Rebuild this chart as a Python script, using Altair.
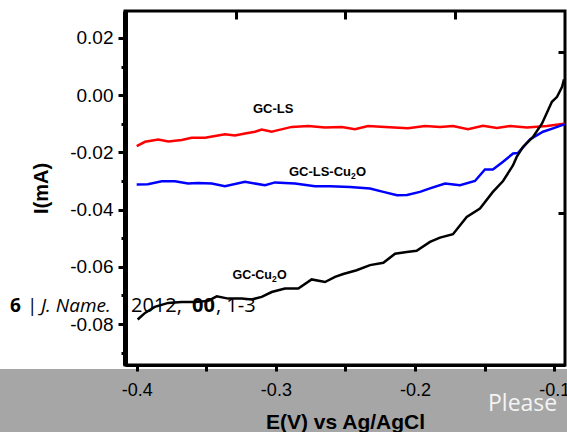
import altair as alt
import pandas as pd

# ---- data ----
red_x = [-0.400, -0.394, -0.3845, -0.3773, -0.3677, -0.3605, -0.3509, -0.3437, -0.3366, -0.3294,
         -0.3222, -0.315, -0.3102, -0.303, -0.3006, -0.2886, -0.2767, -0.2647, -0.2527, -0.2432,
         -0.2338, -0.2216, -0.2051, -0.1929, -0.1821, -0.1728, -0.162, -0.1512, -0.1412, -0.1318,
         -0.1196, -0.1052, -0.0944, -0.0925]
red_y = [-0.0178, -0.0163, -0.0155, -0.0162, -0.0157, -0.0149, -0.0149, -0.0143, -0.0137, -0.0141,
         -0.0134, -0.0128, -0.0120, -0.0128, -0.0125, -0.0111, -0.0108, -0.0113, -0.0111, -0.0119,
         -0.0108, -0.0111, -0.0116, -0.0108, -0.0111, -0.0108, -0.0119, -0.0107, -0.0115, -0.0108,
         -0.0113, -0.0108, -0.0101, -0.0100]

blue_x = [-0.400, -0.392, -0.382, -0.3725, -0.3631, -0.356, -0.3461, -0.3366, -0.3222, -0.3078,
          -0.3006, -0.2863, -0.2719, -0.2611, -0.2468, -0.2324, -0.2228, -0.213, -0.2058, -0.1965,
          -0.1893, -0.1785, -0.1677, -0.157, -0.1498, -0.1441, -0.1368, -0.1296, -0.126, -0.1175,
          -0.1081, -0.1009, -0.0944, -0.0925]
blue_y = [-0.0312, -0.0311, -0.0301, -0.0301, -0.0309, -0.0307, -0.0309, -0.0318, -0.0303, -0.0315,
          -0.0305, -0.0309, -0.0318, -0.0318, -0.0321, -0.0326, -0.0338, -0.0350, -0.0349, -0.0338,
          -0.0326, -0.0309, -0.0315, -0.0300, -0.0260, -0.0260, -0.0233, -0.0204, -0.0202, -0.0155,
          -0.0128, -0.0116, -0.0105, -0.0101]

black_x = [-0.3993, -0.394, -0.387, -0.3773, -0.3677, -0.3581, -0.3486, -0.3425, -0.3342, -0.3246,
           -0.3174, -0.3102, -0.303, -0.2935, -0.2839, -0.2743, -0.2647, -0.2575, -0.2516, -0.242,
           -0.2324, -0.2228, -0.2144, -0.206, -0.1989, -0.1893, -0.1821, -0.1728, -0.1629, -0.1534,
           -0.1441, -0.1368, -0.1296, -0.127, -0.1225, -0.1153, -0.1088, -0.1017, -0.098, -0.0944,
           -0.0930]
black_y = [-0.0784, -0.0761, -0.0740, -0.0726, -0.0723, -0.0723, -0.0719, -0.0703, -0.0711, -0.0711,
           -0.0714, -0.0705, -0.0688, -0.0676, -0.0676, -0.0644, -0.0653, -0.0635, -0.0625, -0.0612,
           -0.0594, -0.0586, -0.0554, -0.0548, -0.0544, -0.0513, -0.0498, -0.0486, -0.0426, -0.0396,
           -0.0338, -0.0300, -0.0245, -0.0216, -0.0181, -0.0146, -0.0099, -0.0023, -0.0006, 0.0029,
           0.0055]

series_names = ["GC-LS", "GC-LS-Cu2O", "GC-Cu2O"]
series_colors = ["#ff0000", "#0000ff", "#000000"]

x_ticks = [-0.4, -0.35, -0.3, -0.25, -0.2, -0.15, -0.1]
y_ticks = [-0.09, -0.08, -0.07, -0.06, -0.05, -0.04, -0.03, -0.02, -0.01, 0.0, 0.01, 0.02]
top_ticks = [-0.329, -0.250, -0.171]
right_ticks = [0.015, -0.0413]

x_domain = [-0.4084, -0.0923]
y_domain = [-0.0943, 0.0294]

rows = []
for name, xs, ys in zip(series_names, [red_x, blue_x, black_x], [red_y, blue_y, black_y]):
    for i, (a, b) in enumerate(zip(xs, ys)):
        rows.append({"series": name, "E": a, "I": b, "order": i})
df = pd.DataFrame(rows)

FONT = "Liberation Sans"
x_scale = alt.Scale(domain=x_domain, nice=False, zero=False)
y_scale = alt.Scale(domain=y_domain, nice=False, zero=False)

lines = alt.Chart(df).mark_line(strokeWidth=2.5, clip=True).encode(
    x=alt.X("E:Q", scale=x_scale, axis=alt.Axis(
        orient="bottom", values=x_ticks, title="E(V) vs Ag/AgCl",
        labelExpr="round(datum.value*20) % 2 == 0 ? '-' + format(abs(datum.value), '.1f') : ''",
        tickSize=6, tickWidth=3, labelPadding=10, labelFontSize=18,
        titleFontSize=21, titleFontWeight="bold", titlePadding=12,
        domainWidth=3, labelFlush=False, labelOverlap=False, zindex=2)),
    y=alt.Y("I:Q", scale=y_scale, axis=alt.Axis(
        orient="left", values=y_ticks, title="I(mA)",
        labelExpr="round(datum.value*100) % 2 == 0 ? (datum.value < -0.0001 ? '-' : '') + format(abs(datum.value), '.2f') : ''",
        tickSize={"condition": {"test": "round(datum.value*100) % 2 == 0", "value": 7}, "value": 4},
        tickWidth=3, labelPadding=5, labelFontSize=19,
        titleFontSize=20, titleFontWeight="bold", titlePadding=18,
        domainWidth=5, labelFlush=False, labelOverlap=False, zindex=2)),
    color=alt.Color("series:N", scale=alt.Scale(domain=series_names, range=series_colors), legend=None),
    order="order:Q",
)

frame_ticks = alt.Chart(df).mark_point(opacity=0).encode(
    x=alt.X("E:Q", scale=x_scale, axis=alt.Axis(
        orient="top", values=top_ticks, labels=False, domain=False, title=None,
        tickSize=8, tickWidth=3, offset=-8, zindex=2)),
    y=alt.Y("I:Q", scale=y_scale, axis=alt.Axis(
        orient="right", values=right_ticks, labels=False, domain=False, title=None,
        tickSize=7, tickWidth=3, offset=-7, zindex=2)),
)

one = pd.DataFrame({"k": [0]})

band = alt.Chart(one).mark_rect(color="#a6a6a6").encode(
    x=alt.value(-130), x2=alt.value(450), y=alt.value(358), y2=alt.value(430))


def txt(s, x, y, size, weight="bold", style="normal", font=FONT, color="black", align="left"):
    return alt.Chart(one).mark_text(
        text=s, font=font, fontSize=size, fontWeight=weight, fontStyle=style,
        color=color, align=align, baseline="alphabetic").encode(
        x=alt.value(x), y=alt.value(y))


labels = [
    txt("GC-LS", 128, 102, 13),
    txt("GC-LS-Cu", 226, 165, 13, align="right"),
    txt("2", 226, 168, 8.5),
    txt("O", 231, 165, 13),
    txt("GC-Cu", 147, 268, 12.5, align="right"),
    txt("2", 147, 271, 8.5),
    txt("O", 152, 268, 12.5),
]

FOOT = "Open Sans"
footer = [
    txt("6", -115, 301, 19, font=FOOT),
    txt("|", -98, 301, 19, weight="normal", font=FOOT),
    txt("J. Name.", -84, 301, 19, weight="normal", style="italic", font=FOOT),
    txt("2012,", 6, 301, 20, weight="normal", font=FOOT),
    txt("00", 67, 301, 20, font=FOOT),
    txt(", 1-3", 91, 301, 20, weight="normal", font=FOOT),
    txt("Please", 363, 400, 23, weight="normal", font=FOOT, color="#f4f4f4"),
]

chart = alt.layer(band, lines, frame_ticks, *labels, *footer).resolve_axis(
    x="independent", y="independent"
).properties(
    width=440, height=354,
    padding={"left": 125, "top": 11, "right": 2, "bottom": 67},
    autosize=alt.AutoSizeParams(type="none"),
    background="white",
).configure_view(
    stroke="black", strokeWidth=3
).configure_axis(
    grid=False, domainColor="black", tickColor="black",
    labelColor="black", titleColor="black", labelFont=FONT, titleFont=FONT,
)

chart.save("out.html", embed_options={"renderer": "svg", "actions": False})
